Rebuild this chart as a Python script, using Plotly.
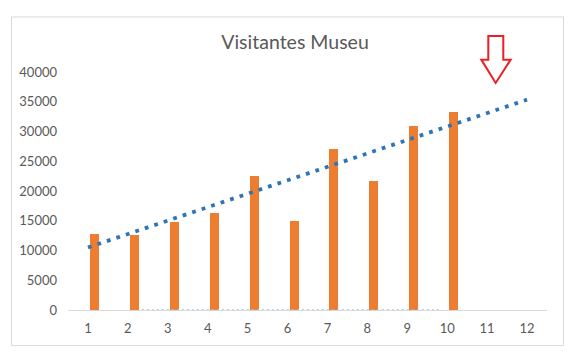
import numpy as np
import plotly.graph_objects as go

# ---- data ----
categorias = [1, 2, 3, 4, 5, 6, 7, 8, 9, 10]
visitantes = [12700, 12600, 14800, 16300, 22500, 14900, 27000, 21600, 31000, 33300]
periodos_tendencia = [1, 2, 3, 4, 5, 6, 7, 8, 9, 10, 11, 12]
x_ticks = [1, 2, 3, 4, 5, 6, 7, 8, 9, 10, 11, 12]
y_ticks = [0, 5000, 10000, 15000, 20000, 25000, 30000, 35000, 40000]
y_labels = [str(v) for v in y_ticks]
aux_x = [2.35, 9.85]
aux_y = [0, 0]

# linear trend (fit on data, forecast 2 periods)
coef = np.polyfit(categorias, visitantes, 1)
tend = np.polyval(coef, periodos_tendencia)

W, H = 579, 353
L, R, T, B = 68, 547, 71.7, 310.3

def px(x):
    return (x - L) / (R - L)

def py(y):
    return (B - y) / (B - T)

fig = go.Figure()
fig.add_trace(go.Scatter(x=aux_x, y=aux_y, mode="lines",
                         line=dict(color="#9dc3e6", width=1.5, dash="2px,3px"),
                         hoverinfo="skip", showlegend=False))
fig.add_trace(go.Bar(x=categorias, y=visitantes, width=0.226, offset=0.05,
                     marker=dict(color="#ed7d31", line=dict(width=0)),
                     showlegend=False))
fig.add_trace(go.Scatter(x=periodos_tendencia, y=tend, mode="lines",
                         line=dict(color="#2e75b6", width=3.8, dash="3.8px,6.2px"),
                         showlegend=False))

font_fam = "Lato, 'Open Sans', sans-serif"

shapes = [
    dict(type="rect", xref="paper", yref="paper",
         x0=px(11.5), x1=px(563.5), y0=py(346), y1=py(16.5),
         line=dict(color="#d9d9d9", width=1), fillcolor="rgba(0,0,0,0)", layer="below"),
]
# red arrow outline
pts = [(488.3, 35.7), (503.3, 35.7), (503.3, 59.3), (510.7, 59.3), (495.7, 82.7),
       (481.3, 59.3), (488.3, 59.3)]
path = "M " + " L ".join(f"{px(x):.5f},{py(y):.5f}" for x, y in pts) + " Z"
shapes.append(dict(type="path", xref="paper", yref="paper", path=path,
                   line=dict(color="#ee1c25", width=2), fillcolor="white"))

fig.update_layout(
    width=W, height=H,
    margin=dict(l=L, r=W - R, t=T, b=H - B, autoexpand=False),
    paper_bgcolor="white", plot_bgcolor="white",
    bargap=0,
    title=dict(text="Visitantes Museu", x=px(295), xref="paper", xanchor="center",
               y=1 - 42 / H, yanchor="middle",
               font=dict(family=font_fam, size=19.5, color="#595959")),
    xaxis=dict(range=[0.5, 12.5], tickmode="array", tickvals=x_ticks,
               showgrid=False, zeroline=False, showline=True, linecolor="#d9d9d9",
               linewidth=1, ticks="", ticklabelstandoff=6,
               tickfont=dict(family=font_fam, size=13, color="#595959")),
    yaxis=dict(range=[0, 40000], tickmode="array", tickvals=y_ticks, ticktext=y_labels,
               showgrid=False, zeroline=False, showline=False, ticks="",
               ticklabelstandoff=10,
               tickfont=dict(family=font_fam, size=13, color="#595959")),
    shapes=shapes,
)

fig.write_html("out.html")
